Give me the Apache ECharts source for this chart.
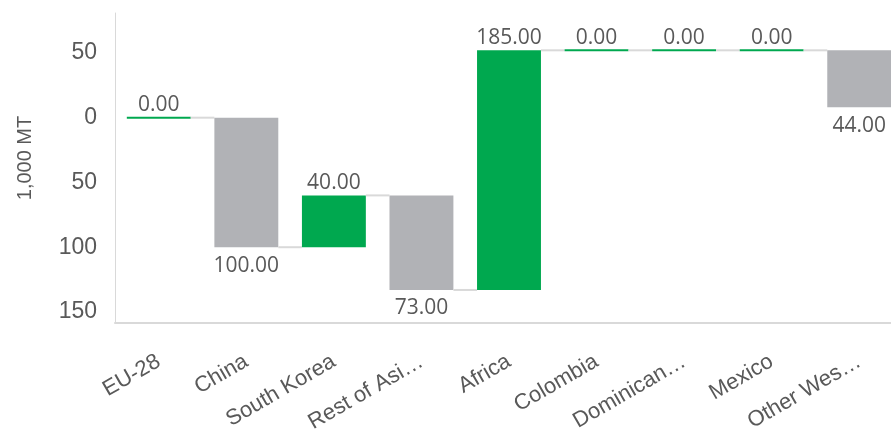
<!DOCTYPE html>
<html>
<head>
<meta charset="utf-8">
<script src="https://cdn.jsdelivr.net/npm/echarts@6/dist/echarts.min.js"></script>
<style>
  html, body { margin: 0; padding: 0; background: #fff; }
  #chart { width: 891px; height: 429px; }
</style>
</head>
<body>
<div id="chart"></div>
<script>
// categories as shown on the axis (Excel truncates the long ones)
var categories = ['EU-28', 'China', 'South Korea', 'Rest of Asi\u2026', 'Africa', 'Colombia', 'Dominican\u2026', 'Mexico', 'Other Wes\u2026'];
// change per step, 1,000 MT
var changes = [0, -100, 40, -73, 185, 0, 0, 0, -44];
var yTicks = [-150, -100, -50, 0, 50];

var GREEN = '#00A84F';
var GREY = '#B1B2B6';
var TEXT = '#595959';

// running totals -> [index, start, end, change]
var rows = [];
var total = 0;
for (var i = 0; i < changes.length; i++) {
    var start = total;
    total += changes[i];
    rows.push([i, start, total, changes[i]]);
}

function renderItem(params, api) {
    var idx = api.value(0);
    var s = api.value(1);
    var e = api.value(2);
    var c = api.value(3);
    var bw = api.size([1, 0])[0] * 0.73;
    var p0 = api.coord([idx, s]);
    var p1 = api.coord([idx, e]);
    var x = p0[0];
    var top = Math.min(p0[1], p1[1]);
    var bottom = Math.max(p0[1], p1[1]);
    var kids = [];

    if (c === 0) {
        kids.push({
            type: 'line',
            shape: { x1: x - bw / 2, y1: p1[1], x2: x + bw / 2, y2: p1[1] },
            style: { stroke: GREEN, lineWidth: 2 }
        });
    } else {
        kids.push({
            type: 'rect',
            shape: { x: x - bw / 2, y: top, width: bw, height: bottom - top },
            style: { fill: c > 0 ? GREEN : GREY }
        });
    }

    // connector to next bar
    if (idx < rows.length - 1) {
        var nx = api.coord([idx + 1, e])[0];
        kids.push({
            type: 'line',
            shape: { x1: x + bw / 2, y1: p1[1], x2: nx - bw / 2, y2: p1[1] },
            style: { stroke: '#D9D9D9', lineWidth: 2 }
        });
    }

    var lbl = Math.abs(c).toFixed(2);
    kids.push({
        type: 'text',
        style: {
            text: lbl,
            x: x,
            y: c >= 0 ? top - 2 : bottom + 8,
            align: 'center',
            verticalAlign: c >= 0 ? 'bottom' : 'top',
            fill: TEXT,
            font: '21px "Open Sans", sans-serif'
        }
    });

    return { type: 'group', children: kids };
}

var option = {
    animation: false,
    backgroundColor: '#fff',
    grid: {
        left: 115,
        top: 13,
        width: 788,
        bottom: 106,
        outerBoundsMode: 'none',
        containLabel: false
    },
    xAxis: {
        type: 'category',
        data: categories,
        axisLine: { onZero: false, lineStyle: { color: '#D9D9D9', width: 2 } },
        axisTick: { show: false },
        axisLabel: {
            rotate: 30,
            interval: 0,
            margin: 37,
            color: TEXT,
            fontSize: 22,
            fontFamily: '"Liberation Sans", Arial, sans-serif'
        }
    },
    yAxis: {
        type: 'value',
        min: -158.5,
        max: 80.8,
        name: '1,000 MT',
        nameLocation: 'middle',
        nameGap: 80,
        nameRotate: 90,
        nameTextStyle: {
            color: TEXT,
            fontSize: 20,
            fontFamily: '"Liberation Sans", Arial, sans-serif',
            padding: [0, 0, 0, 20]
        },
        axisLine: { show: true, lineStyle: { color: '#D9D9D9', width: 1 } },
        axisTick: { show: false },
        splitLine: { show: false },
        axisLabel: {
            customValues: yTicks,
            margin: 18,
            color: TEXT,
            fontSize: 23,
            fontFamily: '"Liberation Sans", Arial, sans-serif',
            formatter: function (v) { return String(Math.abs(v)); }
        }
    },
    series: [{
        type: 'custom',
        renderItem: renderItem,
        clip: false,
        encode: { x: 0, y: [1, 2] },
        data: rows
    }]
};

var chart = echarts.init(document.getElementById('chart'));
chart.setOption(option);
</script>
</body>
</html>
